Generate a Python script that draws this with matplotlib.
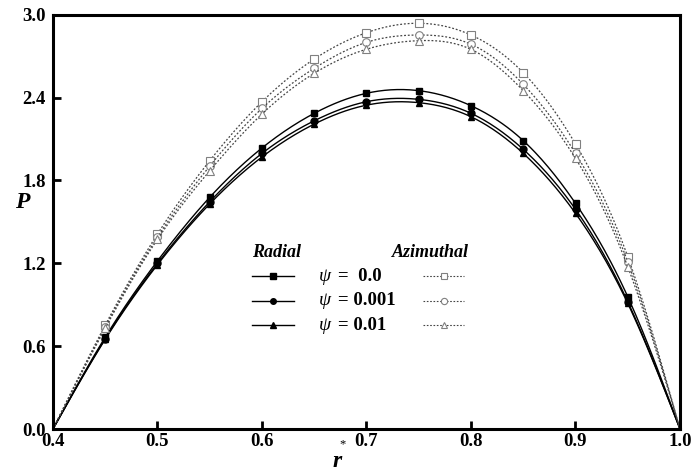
import numpy as np
import matplotlib
matplotlib.use("Agg")
import matplotlib.pyplot as plt

plt.rcParams['font.family'] = ['Liberation Serif', 'DejaVu Serif']

# radial position and pressure values
r = [0.4, 0.45, 0.5, 0.55, 0.6, 0.65, 0.7, 0.75, 0.8, 0.85, 0.9, 0.95, 1.0]
rad_0 = [0.0, 0.665, 1.217, 1.678, 2.035, 2.286, 2.431, 2.450, 2.341, 2.088, 1.634, 0.958, 0.0]
rad_001 = [0.0, 0.655, 1.200, 1.646, 1.996, 2.232, 2.370, 2.387, 2.286, 2.025, 1.591, 0.922, 0.0]
rad_01 = [0.0, 0.650, 1.190, 1.630, 1.970, 2.208, 2.345, 2.363, 2.261, 1.996, 1.562, 0.910, 0.0]
az_0 = [0.0, 0.753, 1.412, 1.943, 2.370, 2.679, 2.870, 2.938, 2.853, 2.580, 2.064, 1.248, 0.0]
az_001 = [0.0, 0.740, 1.390, 1.904, 2.322, 2.612, 2.800, 2.853, 2.786, 2.496, 1.996, 1.211, 0.0]
az_01 = [0.0, 0.730, 1.374, 1.870, 2.281, 2.576, 2.750, 2.812, 2.749, 2.450, 1.960, 1.175, 0.0]

psi_labels = ['0.0', '0.001', '0.01']
markers = ['s', 'o', '^']


def spline(x, y, n=400):
    # natural cubic spline through the points
    x = np.asarray(x, float)
    y = np.asarray(y, float)
    k = len(x)
    h = np.diff(x)
    A = np.zeros((k, k))
    b = np.zeros(k)
    A[0, 0] = A[-1, -1] = 1
    for i in range(1, k - 1):
        A[i, i - 1] = h[i - 1]
        A[i, i] = 2 * (h[i - 1] + h[i])
        A[i, i + 1] = h[i]
        b[i] = 6 * ((y[i + 1] - y[i]) / h[i] - (y[i] - y[i - 1]) / h[i - 1])
    M = np.linalg.solve(A, b)
    xs = np.linspace(x[0], x[-1], n)
    j = np.clip(np.searchsorted(x, xs) - 1, 0, k - 2)
    t0 = x[j + 1] - xs
    t1 = xs - x[j]
    hj = h[j]
    ys = (M[j] * t0 ** 3 + M[j + 1] * t1 ** 3) / (6 * hj) \
        + (y[j] / hj - M[j] * hj / 6) * t0 + (y[j + 1] / hj - M[j + 1] * hj / 6) * t1
    return xs, ys


fig = plt.figure(figsize=(6.91, 4.74), dpi=100)
ax = fig.add_axes([53 / 691, 1 - 429 / 474, 627 / 691, 414.3 / 474])

for ys, m in zip([rad_0, rad_001, rad_01], markers):
    sx, sy = spline(r, ys)
    ax.plot(sx, sy, color='black', lw=1.0)
    ax.plot(r[1:-1], ys[1:-1], linestyle='none', marker=m, ms=5,
            color='black', mec='black')

for ys, m in zip([az_0, az_001, az_01], markers):
    sx, sy = spline(r, ys)
    ax.plot(sx, sy, color='#444444', lw=0.9, linestyle=(0, (1.5, 1.5)))
    ax.plot(r[1:-1], ys[1:-1], linestyle='none', marker=m, ms=5.5,
            mfc='white', mec='#808080', mew=0.8)

ax.set_xlim(0.4, 1.0)
ax.set_ylim(0.0, 3.0)
ax.set_xticks(np.arange(0.4, 1.01, 0.1))
ax.set_yticks(np.arange(0.0, 3.01, 0.6))
ax.set_xticklabels(['%.1f' % v for v in np.arange(0.4, 1.01, 0.1)])
ax.set_yticklabels(['%.1f' % v for v in np.arange(0.0, 3.01, 0.6)])
ax.tick_params(direction='in', length=6, width=2, labelsize=13.5)
ax.tick_params(axis='x', pad=3)
ax.tick_params(axis='y', pad=5)
for lab in ax.get_xticklabels() + ax.get_yticklabels():
    lab.set_fontweight('bold')
for s in ax.spines.values():
    s.set_linewidth(2.2)

# axis titles
ax.text(-0.049, 0.546, 'P', transform=ax.transAxes, fontsize=17,
        fontweight='bold', fontstyle='italic', ha='center', va='center')
ax.text(0.453, -0.078, 'r', transform=ax.transAxes, fontsize=17,
        fontweight='bold', fontstyle='italic', ha='center', va='center')
ax.text(0.461, -0.036, '*', transform=ax.transAxes, fontsize=9,
        ha='center', va='center')

# hand-built legend block
ax.text(0.317, 0.427, 'Radial', transform=ax.transAxes, fontsize=13,
        fontweight='bold', fontstyle='italic', va='center')
ax.text(0.541, 0.427, 'Azimuthal', transform=ax.transAxes, fontsize=13,
        fontweight='bold', fontstyle='italic', va='center')
rows = [0.369, 0.310, 0.251]
for ry, lab, m in zip(rows, psi_labels, markers):
    ax.plot([0.317, 0.384], [ry, ry], transform=ax.transAxes, color='black',
            lw=1.0)
    ax.plot([0.351], [ry], transform=ax.transAxes, marker=m, ms=4,
            color='black')
    ax.plot([0.590, 0.656], [ry, ry], transform=ax.transAxes, color='#444444',
            lw=0.8, linestyle=(0, (1.5, 1.5)))
    ax.plot([0.623], [ry], transform=ax.transAxes, marker=m, ms=4.5,
            mfc='white', mec='#808080', mew=0.8)
    ax.text(0.424, ry, '\u03c8', transform=ax.transAxes, fontsize=14,
            fontstyle='italic', va='center')
    val = ' ' + lab if lab == '0.0' else lab
    ax.text(0.455, ry, '= ' + val, transform=ax.transAxes, fontsize=13.5,
            fontweight='bold', va='center')

fig.savefig('out.png', dpi=100)
